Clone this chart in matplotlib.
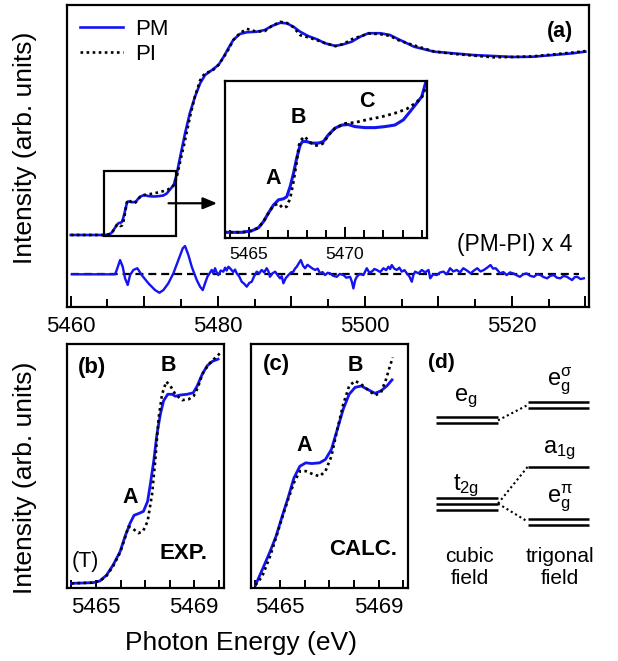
import matplotlib
matplotlib.use('Agg')
import matplotlib.pyplot as plt
from matplotlib.ticker import MultipleLocator, FixedLocator, FuncFormatter

plt.rcParams['font.family'] = ['Liberation Sans', 'DejaVu Sans']
plt.rcParams['mathtext.fontset'] = 'custom'
plt.rcParams['mathtext.rm'] = 'Liberation Sans'
plt.rcParams['mathtext.it'] = 'Liberation Sans:italic'
plt.rcParams['mathtext.bf'] = 'Liberation Sans:bold'

BLUE = '#1414F0'

# ---------------- data: panel (a) ----------------
pm_energy = [5460.0, 5462.0, 5464.0, 5464.62, 5465.14, 5465.49, 5465.75, 5466.0, 5466.27, 5466.53,
             5466.79, 5466.96, 5467.14, 5467.31, 5467.48, 5467.66, 5467.78, 5468.0, 5468.26, 5468.61,
             5468.87, 5469.13, 5469.48, 5469.83, 5470.17, 5470.52, 5471.04, 5471.56, 5472.08, 5472.6,
             5473.04, 5473.39, 5473.73, 5474.0, 5474.4, 5474.8, 5475.55, 5476.2, 5476.9, 5477.6,
             5478.27, 5479.2, 5480.1, 5480.8, 5481.45, 5482.1, 5483.0, 5483.95, 5485.3, 5486.4,
             5487.35, 5488.5, 5489.4, 5490.3, 5491.2, 5492.3, 5493.5, 5494.6, 5496.0, 5497.1,
             5498.2, 5499.4, 5500.5, 5502.1, 5503.4, 5504.6, 5506.7, 5509.4, 5512.1, 5514.8,
             5517.5, 5520.15, 5522.8, 5525.5, 5528.2, 5530.0]
pm_intensity = [0.000, 0.000, 0.000, 0.000, 0.003, 0.009, 0.021, 0.037, 0.053, 0.063,
                0.065, 0.069, 0.089, 0.114, 0.144, 0.169, 0.176, 0.176, 0.173, 0.173,
                0.176, 0.189, 0.202, 0.208, 0.209, 0.205, 0.203, 0.203, 0.205, 0.208,
                0.218, 0.234, 0.250, 0.263, 0.316, 0.395, 0.535, 0.641, 0.728, 0.798,
                0.842, 0.868, 0.895, 0.938, 0.983, 1.026, 1.058, 1.067, 1.070, 1.079,
                1.100, 1.117, 1.114, 1.096, 1.070, 1.047, 1.030, 1.009, 0.995, 1.004,
                1.017, 1.044, 1.062, 1.062, 1.053, 1.030, 0.991, 0.965, 0.956, 0.947,
                0.942, 0.937, 0.938, 0.947, 0.956, 0.965]

pi_energy = [5460.0, 5462.0, 5464.0, 5464.62, 5465.14, 5465.49, 5465.75, 5466.0, 5466.27, 5466.53,
             5466.75, 5466.96, 5467.14, 5467.31, 5467.48, 5467.6, 5467.71, 5467.88, 5468.06, 5468.35,
             5468.65, 5468.87, 5469.13, 5469.48, 5470.0, 5470.52, 5471.22, 5471.91, 5472.6, 5473.21,
             5473.65, 5474.0, 5474.4, 5474.8, 5475.55, 5476.2, 5476.9, 5477.6, 5478.27, 5479.2,
             5480.1, 5480.8, 5481.45, 5482.1, 5483.0, 5483.95, 5485.3, 5486.4, 5487.35, 5488.5,
             5489.4, 5490.3, 5491.2, 5492.3, 5493.5, 5494.6, 5496.0, 5497.1, 5498.2, 5499.4,
             5500.5, 5502.1, 5503.4, 5504.6, 5506.7, 5509.4, 5512.1, 5514.8, 5517.5, 5520.15,
             5522.8, 5525.5, 5528.2, 5530.0]
pi_intensity = [0.000, 0.000, 0.000, 0.000, 0.003, 0.009, 0.021, 0.037, 0.052, 0.056,
                0.047, 0.050, 0.066, 0.098, 0.137, 0.169, 0.179, 0.186, 0.179, 0.169,
                0.168, 0.173, 0.188, 0.202, 0.211, 0.213, 0.219, 0.224, 0.231, 0.239,
                0.250, 0.261, 0.300, 0.372, 0.498, 0.618, 0.730, 0.814, 0.853, 0.862,
                0.896, 0.935, 0.976, 1.025, 1.062, 1.085, 1.070, 1.073, 1.100, 1.122,
                1.116, 1.093, 1.052, 1.040, 1.025, 1.010, 0.994, 1.005, 1.030, 1.046,
                1.060, 1.057, 1.048, 1.025, 0.998, 0.966, 0.953, 0.944, 0.935, 0.937,
                0.940, 0.950, 0.960, 0.968]

# (PM-PI) x 4, drawn with a vertical offset
diff_offset = -0.207
diff_energy = [5460.14, 5466.03, 5466.26, 5466.71, 5467.07, 5467.39, 5467.75, 5468.07, 5468.52, 5469.06,
               5469.66, 5470.56, 5471.47, 5472.06, 5472.6, 5473.28, 5473.96, 5474.64, 5475.24, 5475.55,
               5476.0, 5476.46, 5477.14, 5477.59, 5477.96, 5478.27, 5478.59,
               5479.18, 5479.4, 5479.63, 5479.85, 5480.08, 5480.4, 5480.76, 5481.0, 5481.2, 5481.45,
               5481.67, 5482.1, 5482.35, 5482.58, 5482.9, 5483.26, 5483.6, 5483.94, 5484.3, 5484.62,
               5484.95, 5485.3, 5485.65, 5485.98, 5486.3, 5486.66, 5486.9, 5487.1, 5487.45, 5487.8,
               5488.15, 5488.48, 5488.7, 5488.93, 5489.25, 5489.61, 5489.95, 5490.29, 5490.5, 5490.75,
               5491.05, 5491.3, 5491.6, 5491.88, 5492.2, 5492.56, 5492.9, 5493.24, 5493.6, 5493.92,
               5494.25, 5494.6, 5494.95, 5495.28, 5495.7, 5496.19, 5496.6, 5497.1, 5497.5, 5498.0,
               5498.25, 5498.45, 5498.7, 5498.91, 5499.3, 5499.81, 5500.05, 5500.27, 5500.6, 5500.95,
               5501.3, 5501.63, 5502.1, 5502.54, 5502.9, 5503.22, 5503.45, 5503.67, 5504.0, 5504.35,
               5504.7, 5505.03, 5505.4, 5505.71, 5506.05, 5506.39, 5506.6, 5506.85, 5507.3, 5507.76,
               5508.2, 5508.67, 5508.9, 5509.3, 5509.8, 5510.25, 5510.7, 5511.15, 5511.6, 5512.05,
               5512.5, 5512.95, 5513.4, 5513.9, 5514.4, 5514.85, 5515.3, 5515.75, 5516.2, 5516.65,
               5517.1, 5517.45, 5517.8, 5518.1, 5518.4, 5518.85, 5519.3, 5519.75, 5520.2, 5520.65,
               5521.1, 5521.55, 5522.0, 5522.5, 5523.0, 5523.45, 5523.9, 5524.35, 5524.8, 5525.25,
               5525.7, 5526.15, 5526.6, 5527.05, 5527.5, 5527.85, 5528.2, 5528.55, 5528.9, 5529.35,
               5529.8]
diff_x4 = [0.000, 0.000, 0.023, 0.075, 0.040, -0.021, -0.056, -0.004, 0.023, 0.032,
           -0.004, -0.047, -0.083, -0.097, -0.083, -0.047, 0.005, 0.075, 0.137, 0.149,
           0.102, 0.040, -0.030, -0.065, -0.083, -0.047, -0.013,
           0.023, 0.005, 0.032, 0.010, -0.004, 0.020, 0.014, 0.035, 0.020, 0.040,
           0.032, 0.012, 0.025, 0.005, -0.010, -0.039, -0.050, -0.065, -0.045, -0.039,
           -0.010, 0.014, 0.005, 0.023, 0.010, 0.032, 0.015, -0.013, 0.005, 0.014,
           -0.005, -0.021, -0.010, -0.047, -0.020, -0.004, 0.010, 0.014, 0.030, 0.040,
           0.060, 0.075, 0.045, 0.032, 0.050, 0.040, 0.030, 0.023, 0.030, 0.005,
           0.012, -0.004, 0.008, 0.005, -0.008, -0.013, 0.002, -0.004, -0.018, -0.013,
           -0.040, -0.074, -0.030, -0.013, 0.002, -0.004, 0.015, 0.032, 0.010, 0.014,
           0.028, 0.023, 0.012, 0.032, 0.022, 0.040, 0.028, 0.049, 0.030, 0.023,
           0.035, 0.014, 0.022, 0.005, -0.010, -0.039, -0.005, 0.014, 0.005, 0.023,
           0.010, 0.023, -0.021, 0.000, -0.004, 0.010, 0.014, 0.000, 0.032, 0.015,
           0.023, 0.010, 0.032, 0.020, 0.005, 0.020, 0.032, 0.015, 0.023, 0.035,
           0.049, 0.030, 0.032, 0.020, 0.005, 0.012, -0.004, 0.010, 0.005, -0.005,
           -0.013, 0.000, 0.005, -0.008, -0.013, 0.000, -0.004, -0.015, -0.021, -0.008,
           -0.004, -0.018, -0.021, -0.008, -0.013, -0.022, -0.030, -0.015, -0.013, -0.025,
           -0.021]
zero_line_energy = [5460.0, 5529.1]

zoom_energy = (5464.5, 5474.3)
zoom_intensity = (-0.005, 0.337)

# ---------------- data: panels (b) and (c) ----------------
expt_energy_pm = [5464.0, 5464.89, 5465.16, 5465.43, 5465.7, 5465.98, 5466.18, 5466.39, 5466.55, 5466.73,
                  5466.93, 5467.1, 5467.21, 5467.35, 5467.48, 5467.62, 5467.75, 5467.92, 5468.1, 5468.23,
                  5468.44, 5468.71, 5468.96, 5469.12, 5469.33, 5469.53, 5469.74, 5469.97]
expt_pm = [0.019, 0.022, 0.029, 0.053, 0.095, 0.149, 0.211, 0.266, 0.298, 0.305,
           0.314, 0.355, 0.424, 0.520, 0.630, 0.712, 0.767, 0.794, 0.794, 0.786,
           0.791, 0.794, 0.800, 0.828, 0.877, 0.911, 0.929, 0.938]
expt_energy_pi = [5464.0, 5464.89, 5465.16, 5465.43, 5465.7, 5465.98, 5466.18, 5466.32, 5466.5, 5466.73,
                  5466.91, 5467.1, 5467.28, 5467.41, 5467.55, 5467.69, 5467.86, 5468.03, 5468.23, 5468.51,
                  5468.78, 5468.98, 5469.15, 5469.33, 5469.6, 5469.87, 5470.05]
expt_pi = [0.019, 0.022, 0.029, 0.050, 0.090, 0.145, 0.205, 0.252, 0.243, 0.225,
           0.232, 0.273, 0.383, 0.520, 0.698, 0.794, 0.846, 0.828, 0.794, 0.770,
           0.774, 0.787, 0.822, 0.877, 0.918, 0.945, 0.962]

calc_energy_pm = [5464.0, 5464.27, 5464.59, 5464.83, 5465.08, 5465.32, 5465.56, 5465.8, 5466.04, 5466.28,
                  5466.6, 5466.84, 5467.08, 5467.32, 5467.56, 5467.8, 5468.04, 5468.29, 5468.53, 5468.85,
                  5469.09, 5469.33, 5469.54]
calc_pm = [0.012, 0.074, 0.149, 0.211, 0.293, 0.369, 0.451, 0.499, 0.513, 0.510,
           0.513, 0.527, 0.568, 0.650, 0.733, 0.794, 0.822, 0.828, 0.815, 0.798,
           0.808, 0.828, 0.853]
calc_energy_pi = [5464.0, 5464.27, 5464.59, 5464.83, 5465.08, 5465.32, 5465.56, 5465.8, 5466.04, 5466.36,
                  5466.6, 5466.84, 5467.08, 5467.32, 5467.56, 5467.8, 5468.04, 5468.29, 5468.61, 5468.85,
                  5469.09, 5469.3, 5469.46, 5469.57]
calc_pi = [0.012, 0.047, 0.129, 0.205, 0.287, 0.362, 0.431, 0.479, 0.479, 0.465,
           0.458, 0.479, 0.540, 0.650, 0.753, 0.828, 0.849, 0.835, 0.808, 0.790,
           0.801, 0.856, 0.911, 0.945]

# ---------------- data: panel (d) level scheme ----------------
cubic_labels = [r'$\mathregular{e_g}$', r'$\mathregular{t_{2g}}$']
cubic_levels = [0.687, 0.346]
cubic_degeneracy = [2, 3]
cubic_label_y = [0.767, 0.400]
trig_labels = [r'$\mathregular{e_g^{σ}}$', r'$\mathregular{a_{1g}}$', r'$\mathregular{e_g^{π}}$']
trig_levels = [0.750, 0.497, 0.272]
trig_degeneracy = [2, 1, 2]
trig_label_y = [0.828, 0.551, 0.349]
correlations = [(0, 0), (1, 1), (1, 2)]   # cubic index -> trigonal index
level_gap = 0.0245

# ---------------- figure ----------------
W, H = 618, 661
fig = plt.figure(figsize=(W / 100, H / 100), dpi=100)


def px_axes(left, top, right, bottom, **kw):
    return fig.add_axes([left / W, 1 - bottom / H, (right - left) / W, (bottom - top) / H], **kw)


SPW = 1.6
DOT = (0, (1, 1.3))

# ---- panel (a)
ax = px_axes(66.7, 5, 589, 307)
ax.plot(zero_line_energy, [diff_offset, diff_offset], color='k', lw=1.6,
        linestyle=(0, (3.6, 2.2)), zorder=1)
ax.plot(diff_energy, [diff_offset + d for d in diff_x4], color=BLUE, lw=1.7, zorder=2)
ax.plot(pi_energy, pi_intensity, color='k', lw=1.9, linestyle=DOT, label='PI', zorder=3)
ax.plot(pm_energy, pm_intensity, color=BLUE, lw=1.9, label='PM', zorder=2.5)
ax.set_xlim(5459.45, 5530.5)
ax.set_ylim(-0.379, 1.2105)
ax.set_yticks([])
ax.xaxis.set_major_locator(MultipleLocator(10))
ax.xaxis.set_minor_locator(MultipleLocator(5))
ax.xaxis.set_major_formatter(FuncFormatter(lambda v, p: f'{v:.0f}' if round(v) % 20 == 0 else ''))
ax.tick_params(axis='x', which='major', direction='in', length=8, width=1.4, labelsize=16, pad=6.5, top=False)
ax.tick_params(axis='x', which='minor', direction='in', length=5.5, width=1.4, top=False)
for s in ax.spines.values():
    s.set_linewidth(SPW)
h, l = ax.get_legend_handles_labels()
ax.legend([h[1], h[0]], [l[1], l[0]], loc='upper left', bbox_to_anchor=(0.025, 0.955), frameon=False,
          fontsize=16, handlelength=1.95, handletextpad=0.55, labelspacing=0.2, borderpad=0,
          borderaxespad=0)
ax.text(0.9445, 0.9106, '(a)', transform=ax.transAxes, fontsize=15.5, fontweight='bold',
        ha='center', va='center')
ax.text(0.858, 0.2053, '(PM-PI) x 4', transform=ax.transAxes, fontsize=16.5, ha='center', va='center')
ax.add_patch(plt.Rectangle((zoom_energy[0], zoom_intensity[0]), zoom_energy[1] - zoom_energy[0],
                           zoom_intensity[1] - zoom_intensity[0], fill=False, ec='k', lw=1.6, zorder=4))
ax.annotate('', xy=(5479.9, 0.167), xytext=(5473.3, 0.167),
            arrowprops=dict(arrowstyle='-|>,head_length=0.6,head_width=0.25', color='k', lw=1.6,
                            shrinkA=0, shrinkB=0, mutation_scale=14), zorder=5)

# ---- inset
axi = px_axes(225, 80.7, 426.7, 238.3)
axi.plot(pi_energy, pi_intensity, color='k', lw=2.0, linestyle=DOT, zorder=3)
axi.plot(pm_energy, pm_intensity, color=BLUE, lw=2.2, zorder=2)
axi.set_xlim(5463.74, 5474.26)
axi.set_ylim(-0.0116, 0.294)
axi.set_yticks([])
axi.xaxis.set_major_locator(FixedLocator([5465, 5470]))
axi.xaxis.set_minor_locator(MultipleLocator(1))
axi.tick_params(axis='x', which='major', direction='in', length=8, width=1.4, labelsize=12.5, pad=6.5)
axi.tick_params(axis='x', which='minor', direction='in', length=5.5, width=1.4)
for s in axi.spines.values():
    s.set_linewidth(SPW)
for txt, fx, fy in [('A', 0.2395, 0.3807), ('B', 0.3634, 0.7652), ('C', 0.7025, 0.8668)]:
    axi.text(fx, fy, txt, transform=axi.transAxes, fontsize=15.5, fontweight='bold', ha='center', va='center')


# ---- panels (b) and (c)
def small_panel(left, right, e_pm, y_pm, e_pi, y_pi):
    a = px_axes(left, 344, right, 588)
    a.plot(e_pi, y_pi, color='k', lw=1.9, linestyle=DOT, zorder=3)
    a.plot(e_pm, y_pm, color=BLUE, lw=2.0, zorder=2)
    a.set_xlim(5463.83, 5470.2)
    a.set_ylim(0, 1)
    a.set_yticks([])
    a.xaxis.set_major_locator(FixedLocator([5465, 5469]))
    a.xaxis.set_minor_locator(MultipleLocator(1))
    a.tick_params(axis='x', which='both', direction='in', length=6, width=1.4, labelsize=16, pad=6.5)
    for s in a.spines.values():
        s.set_linewidth(SPW)
    return a


axb = small_panel(67.3, 223.7, expt_energy_pm, expt_pm, expt_energy_pi, expt_pi)
axc = small_panel(251.3, 408.3, calc_energy_pm, calc_pm, calc_energy_pi, calc_pi)

for a, items in [(axb, [('(b)', 0.158, 0.904, 16, 'bold'), ('B', 0.646, 0.911, 15.5, 'bold'),
                        ('A', 0.405, 0.370, 15.5, 'bold'), ('EXP.', 0.742, 0.142, 16, 'bold'),
                        ('(T)', 0.113, 0.108, 15.5, 'normal')]),
                 (axc, [('(c)', 0.157, 0.914, 16, 'bold'), ('B', 0.661, 0.910, 15.5, 'bold'),
                        ('A', 0.334, 0.586, 15.5, 'bold'), ('CALC.', 0.714, 0.156, 16, 'bold')])]:
    for txt, fx, fy, fs, fw in items:
        a.text(fx, fy, txt, transform=a.transAxes, fontsize=fs, fontweight=fw, ha='center', va='center')

# ---- panel (d)
axd = px_axes(420, 344, 618, 588)
axd.set_xlim(0, 1)
axd.set_ylim(0, 1)
axd.axis('off')
cx = (0.081, 0.394)
tx = (0.544, 0.852)


def draw_level(xr, center, n):
    for k in range(n):
        y = center + (k - (n - 1) / 2) * level_gap
        axd.plot(xr, [y, y], color='k', lw=1.8, solid_capstyle='butt')


for lab, e, n, ly in zip(cubic_labels, cubic_levels, cubic_degeneracy, cubic_label_y):
    draw_level(cx, e, n)
    axd.text(0.232, ly, lab, fontsize=17, ha='center', va='baseline')
for lab, e, n, ly in zip(trig_labels, trig_levels, trig_degeneracy, trig_label_y):
    draw_level(tx, e, n)
    axd.text(0.705, ly, lab, fontsize=17, ha='center', va='baseline')
for ci, ti in correlations:
    axd.plot([cx[1], tx[0]], [cubic_levels[ci], trig_levels[ti]], color='k', lw=1.5,
             linestyle=(0, (1, 1.4)))
axd.text(0.106, 0.925, '(d)', fontsize=15, fontweight='bold', ha='center', va='center')
axd.text(0.25, 0.129, 'cubic', fontsize=15, ha='center', va='center')
axd.text(0.25, 0.040, 'field', fontsize=15, ha='center', va='center')
axd.text(0.707, 0.129, 'trigonal', fontsize=15, ha='center', va='center')
axd.text(0.707, 0.040, 'field', fontsize=15, ha='center', va='center')

# ---- axis labels
fig.text(25 / W, 1 - 148 / H, 'Intensity (arb. units)', rotation=90, fontsize=19, ha='center', va='center')
fig.text(25 / W, 1 - 478 / H, 'Intensity (arb. units)', rotation=90, fontsize=19, ha='center', va='center')
fig.text(241 / W, 1 - 643 / H, 'Photon Energy (eV)', fontsize=19, ha='center', va='center')

fig.savefig('out.png', dpi=100)
